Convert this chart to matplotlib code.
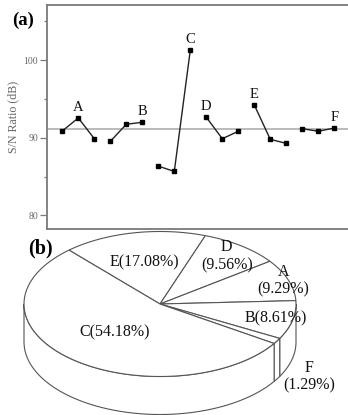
import matplotlib
matplotlib.use('Agg')
import matplotlib.pyplot as plt
from matplotlib.patches import Polygon
import numpy as np

# (a) S/N ratio per factor level
factors = ['A', 'B', 'C', 'D', 'E', 'F']
sn_A = [90.87, 92.55, 89.87]
sn_B = [89.53, 91.73, 91.99]
sn_C = [86.34, 85.66, 101.29]
sn_D = [92.64, 89.87, 90.83]
sn_E = [94.22, 89.79, 89.27]
sn_F = [91.16, 90.83, 91.25]
sn_mean = 91.09
yticks = [80, 90, 100]

# (b) contribution, clockwise starting from the C/E boundary
pie_names = ['E', 'D', 'A', 'B', 'F', 'C']
pie_pct = [17.08, 9.56, 9.29, 8.61, 1.29, 54.18]

plt.rcParams['font.family'] = ['Liberation Serif', 'DejaVu Serif']

W, H = 348, 415
fig = plt.figure(figsize=(W/100, H/100), dpi=100)

ax = fig.add_axes([47/W, 1-229.3/H, (352-47)/W, (229.3-5)/H])
groups = [sn_A, sn_B, sn_C, sn_D, sn_E, sn_F]
gray = '#7a7a7a'
ax.axhline(sn_mean, color='#b5b5b5', lw=1.3, zorder=1)
for k, g in enumerate(groups):
    xs = np.arange(1, 4) + 3*k
    ax.plot(xs, g, color='#222222', lw=1.0, marker='s', ms=3.3, mfc='black', mec='black', zorder=3)
    j = int(np.argmax(g))
    ax.annotate(factors[k], (xs[j], g[j]), xytext=(0, 7.5), textcoords='offset points',
                ha='center', va='center', fontsize=10.5, color='#111111')
ax.set_xlim(0.044, 0.044 + 305/16)
ax.set_ylim(78.2, 107.1)
ax.set_xticks([])
ax.set_yticks(yticks)
ax.set_yticks([85, 95, 105], minor=True)
ax.tick_params(axis='y', which='major', direction='out', length=5, width=0.9, color=gray,
               labelsize=7, labelcolor='#666666', pad=1.5)
ax.tick_params(axis='y', which='minor', direction='out', length=2.5, width=0.9, color=gray)
for s in ax.spines.values():
    s.set_color(gray)
    s.set_linewidth(1.3)
ax.set_ylabel('S/N Ratio (dB)', fontsize=8.6, color='#666666', labelpad=3)
fig.text(23/W, 1-20/H, '(a)', fontsize=13.5, fontweight='bold', ha='center', va='center')

# (b) pseudo 3D pie drawn in pixel coordinates
ax2 = fig.add_axes([0, 0, 1, 1])
ax2.set_xlim(0, W)
ax2.set_ylim(H, 0)
ax2.axis('off')
ax2.patch.set_alpha(0)

cx, cy, ra, rb, depth = 160, 304, 136, 72.5, 38
start = 132.0
edge = '#555555'

def top_pt(t, r=1.0):
    t = np.radians(t)
    return cx + r*ra*np.cos(t), cy - r*rb*np.sin(t)

spans = np.array(pie_pct) / np.sum(pie_pct) * 360
bounds = start - np.concatenate([[0], np.cumsum(spans)])

# side walls (front half only)
for i in range(len(pie_names)):
    hi, lo = bounds[i], bounds[i+1]
    a, b = min(hi, 0), max(lo, -180)
    if a <= b:
        continue
    ts = np.linspace(a, b, 60)
    x, y = top_pt(ts)
    xy = np.column_stack([np.concatenate([x, x[::-1]]), np.concatenate([y, y[::-1] + depth])])
    ax2.add_patch(Polygon(xy, closed=True, fc='white', ec=edge, lw=0.8, zorder=2))

# top face
for i in range(len(pie_names)):
    ts = np.linspace(bounds[i], bounds[i+1], 80)
    x, y = top_pt(ts)
    xy = np.column_stack([np.concatenate([[cx], x]), np.concatenate([[cy], y])])
    ax2.add_patch(Polygon(xy, closed=True, fc='white', ec=edge, lw=0.8, zorder=3))

label_r = [0.59, 0.82, 0.96, 0.87, 1.0, 0.52]
two_line = ['D', 'A', 'F']
for i, name in enumerate(pie_names):
    mid = (bounds[i] + bounds[i+1]) / 2
    if name == 'C':
        mid = -130.0
    x, y = top_pt(mid, label_r[i])
    if name == 'F':
        x, y = x + 32, y + depth - 2
    if name in two_line:
        txt = '%s\n(%.2f%%)' % (name, pie_pct[i])
    else:
        txt = '%s(%.2f%%)' % (name, pie_pct[i])
    ax2.text(x, y, txt, ha='center', va='center', fontsize=11.5, linespacing=1.15,
             color='#111111', zorder=5)

fig.text(40/W, 1-248.3/H, '(b)', fontsize=14.5, fontweight='bold', ha='center', va='center')

fig.savefig('out.png', dpi=100)
